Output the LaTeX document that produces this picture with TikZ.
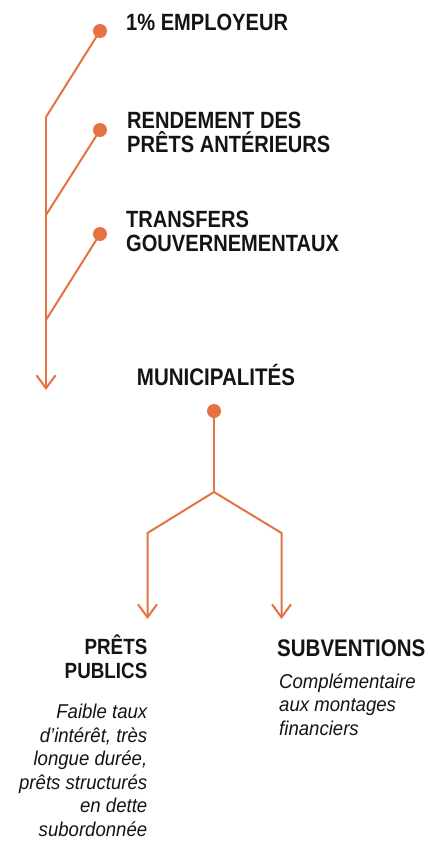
\documentclass[tikz,border=0pt]{standalone}
\usepackage{fontspec}
\setmainfont{Liberation Sans}
\newfontfamily\headfont[FakeStretch=0.855]{Liberation Sans}
\newfontfamily\notefont[FakeStretch=0.93]{Liberation Sans}
\usetikzlibrary{arrows.meta}
\definecolor{flow}{RGB}{228,114,66}
\definecolor{ink}{RGB}{20,20,20}
\tikzset{
  flowline/.style={draw=flow, line width=2pt, line join=miter},
  flowarrow/.style={flowline, -{Straight Barb[length=13pt,width=19pt,line width=2pt]}},
  dot/.style={circle, fill=flow, inner sep=0pt, minimum size=14pt},
  toplabel/.style={inner sep=0pt, text=ink, align=left,
    font=\headfont\bfseries\fontsize{23.5}{24.4}\selectfont},
  sublabel/.style={inner sep=0pt, text=ink,
    font=\headfont\bfseries\fontsize{22}{23.7}\selectfont},
  note/.style={inner sep=0pt, text=ink,
    font=\notefont\itshape\fontsize{20}{23.5}\selectfont}
}
\begin{document}
\begin{tikzpicture}[x=1pt, y=-1pt]
\useasboundingbox (0,0) rectangle (429,843);

% sources feeding the main line
\node[dot] (d1) at (100,31) {};
\node[dot] (d2) at (100,130) {};
\node[dot] (d3) at (100,234) {};
\coordinate (j1) at (46,117);
\coordinate (j2) at (46,215);
\coordinate (j3) at (46,320);
\coordinate (e1) at (46,390);

% multi-line labels are placed by the baseline of their last line
\node[toplabel, anchor=base west] (l1) at (126,30.7) {1\% EMPLOYEUR};
\node[toplabel, anchor=base west] (l2) at (127,152.7) {RENDEMENT DES\\PRÊTS ANTÉRIEURS};
\node[toplabel, anchor=base west] (l3) at (126,251.5) {TRANSFERS\\GOUVERNEMENTAUX};

\draw[flowline] (d1.center) -- (j1);
\draw[flowline] (d2.center) -- (j2);
\draw[flowline] (d3.center) -- (j3);
\draw[flowarrow] (j1) -- (e1);

% municipalities and the split
\node[toplabel, anchor=base, font=\headfont\bfseries\fontsize{24}{24.4}\selectfont] (mun) at (216,385) {MUNICIPALITÉS};
\node[dot] (d4) at (214,411) {};
\coordinate (j4) at (214,492);
\coordinate (bl) at (147.5,533);
\coordinate (br) at (281.5,533);
\coordinate (e2) at (147.5,619);
\coordinate (e3) at (281.5,619);

\draw[flowline] (d4.center) -- (j4);
\draw[flowarrow] (j4) -- (bl) -- (e2);
\draw[flowarrow] (j4) -- (br) -- (e3);

% outcomes
\node[sublabel, anchor=base east, align=right] (pp) at (147.5,678) {PRÊTS\\PUBLICS};
\node[note, anchor=base east, align=right] (ppn) at (147.5,836) {Faible taux\\d’intérêt, très\\longue durée,\\prêts structurés\\en dette\\subordonnée};
\node[sublabel, anchor=base west, font=\headfont\bfseries\fontsize{24}{24}\selectfont] (sv) at (277,656) {SUBVENTIONS};
\node[note, anchor=base west, align=left] (svn) at (279,735) {Complémentaire\\aux montages\\financiers};
\end{tikzpicture}
\end{document}
